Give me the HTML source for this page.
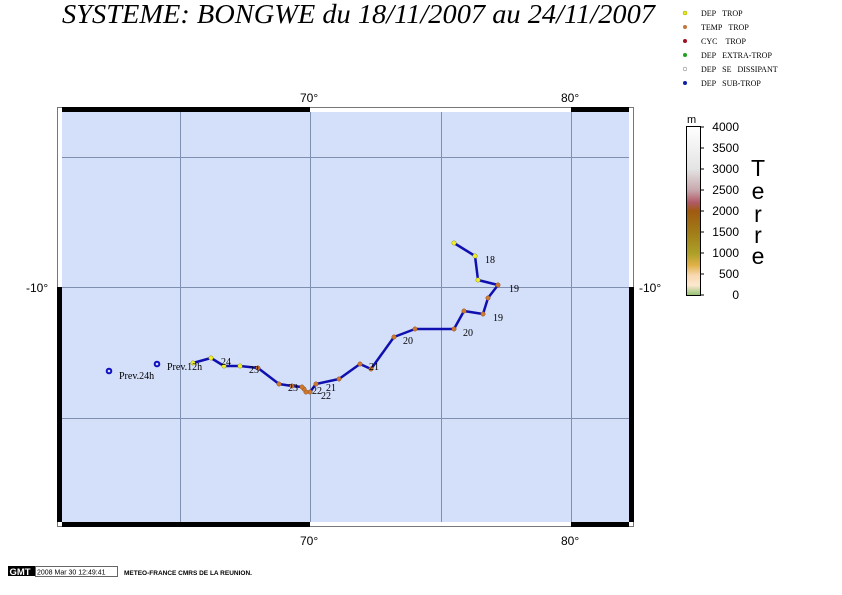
<!DOCTYPE html>
<html><head><meta charset="utf-8"><style>
html,body{margin:0;padding:0;background:#fff;}
svg{display:block;}
</style></head><body>
<svg width="842" height="595" viewBox="0 0 842 595" xmlns="http://www.w3.org/2000/svg">
<defs>
<linearGradient id="cb" x1="0" y1="0" x2="0" y2="1">
<stop offset="0" stop-color="#ffffff"/>
<stop offset="0.25" stop-color="#e4e4e4"/>
<stop offset="0.375" stop-color="#c8a8ae"/>
<stop offset="0.45" stop-color="#b05a66"/>
<stop offset="0.5" stop-color="#a05a10"/>
<stop offset="0.625" stop-color="#a07c18"/>
<stop offset="0.75" stop-color="#aca028"/>
<stop offset="0.82" stop-color="#e0b048"/>
<stop offset="0.88" stop-color="#f8d8b0"/>
<stop offset="0.94" stop-color="#fce8d0"/>
<stop offset="1" stop-color="#90c070"/>
</linearGradient>
</defs>
<text x="62" y="23" font-family="Liberation Serif, serif" font-style="italic" font-size="27" textLength="593" lengthAdjust="spacingAndGlyphs">SYSTEME: BONGWE du 18/11/2007 au 24/11/2007</text>

<g font-family="Liberation Serif, serif" font-size="8">
<circle cx="685" cy="13" r="2" fill="#e8e820" stroke="#a0a000" stroke-width="0.5"/><text x="701" y="16">DEP&#160;&#160;&#160;TROP</text>
<circle cx="685" cy="27" r="2" fill="#c07840"/><text x="701" y="30">TEMP&#160;&#160;&#160;TROP</text>
<circle cx="685" cy="41" r="2" fill="#a01020"/><text x="701" y="44">CYC&#160;&#160;&#160;&#160;TROP</text>
<circle cx="685" cy="55" r="2" fill="#20a020"/><text x="701" y="58">DEP&#160;&#160;&#160;EXTRA-TROP</text>
<circle cx="685" cy="69" r="1.8" fill="#fff" stroke="#888" stroke-width="0.6"/><text x="701" y="72">DEP&#160;&#160;&#160;SE&#160;&#160;&#160;DISSIPANT</text>
<circle cx="685" cy="83" r="2" fill="#1020a0"/><text x="701" y="86">DEP&#160;&#160;&#160;SUB-TROP</text>
</g>

<!-- frame -->
<rect x="57.5" y="107.5" width="576" height="419" fill="#fff" stroke="#777" stroke-width="1"/>
<rect x="62" y="112" width="567" height="410" fill="#d4dffa"/>
<rect x="62" y="107" width="248" height="5" fill="#000"/>
<rect x="571" y="107" width="58" height="5" fill="#000"/>
<rect x="62" y="522" width="248" height="5" fill="#000"/>
<rect x="571" y="522" width="58" height="5" fill="#000"/>
<rect x="57" y="287" width="5" height="235" fill="#000"/>
<rect x="629" y="287" width="5" height="235" fill="#000"/>
<g stroke="#7f8fb0" stroke-width="1">
<line x1="180.5" y1="112" x2="180.5" y2="522"/>
<line x1="310.5" y1="112" x2="310.5" y2="522"/>
<line x1="441.5" y1="112" x2="441.5" y2="522"/>
<line x1="571.5" y1="112" x2="571.5" y2="522"/>
<line x1="62" y1="157.5" x2="629" y2="157.5"/>
<line x1="62" y1="287.5" x2="629" y2="287.5"/>
<line x1="62" y1="418.5" x2="629" y2="418.5"/>
</g>
<g font-family="Liberation Sans, sans-serif" font-size="12">
<text x="300" y="102">70°</text>
<text x="561" y="102">80°</text>
<text x="300" y="545">70°</text>
<text x="561" y="545">80°</text>
<text x="26" y="292">-10°</text>
<text x="639" y="292">-10°</text>
</g>

<!-- track -->
<polyline fill="none" stroke="#1010b0" stroke-width="2.5" stroke-linejoin="round" points="454,243 475,256 478,280 498,285 488,298 483,314 464,311 454,329 415,329 394,337 371,369 360,364 339,379 316,384 310,392 306,392 304,389 302,387 292,386 279,384 258,368 240,366 224,366 211,358 193,363"/>
<g fill="#d07a30" stroke="#905020" stroke-width="0.5">
<circle cx="498" cy="285" r="2.2"/><circle cx="488" cy="298" r="2.2"/><circle cx="483" cy="314" r="2.2"/><circle cx="464" cy="311" r="2.2"/><circle cx="454" cy="329" r="2.2"/><circle cx="415" cy="329" r="2.2"/><circle cx="394" cy="337" r="2.2"/><circle cx="371" cy="369" r="2.2"/><circle cx="360" cy="364" r="2.2"/><circle cx="339" cy="379" r="2.2"/><circle cx="316" cy="384" r="2.2"/><circle cx="310" cy="392" r="2.2"/><circle cx="306" cy="392" r="2.2"/><circle cx="304" cy="389" r="2.2"/><circle cx="302" cy="387" r="2.2"/><circle cx="292" cy="386" r="2.2"/><circle cx="279" cy="384" r="2.2"/><circle cx="258" cy="368" r="2.2"/>
</g>
<g fill="#f0f030" stroke="#909000" stroke-width="0.5">
<circle cx="454" cy="243" r="2.2"/><circle cx="475" cy="256" r="2.2"/><circle cx="478" cy="280" r="2.2"/><circle cx="240" cy="366" r="2.2"/><circle cx="224" cy="366" r="2.2"/><circle cx="211" cy="358" r="2.2"/><circle cx="193" cy="363" r="2.2"/>
</g>
<circle cx="157" cy="364" r="2.3" fill="none" stroke="#1010c0" stroke-width="2"/>
<circle cx="109" cy="371" r="2.3" fill="none" stroke="#1010c0" stroke-width="2"/>
<g font-family="Liberation Serif, serif" font-size="10">
<text x="485" y="263">18</text>
<text x="509" y="292">19</text>
<text x="493" y="321">19</text>
<text x="463" y="336">20</text>
<text x="403" y="344">20</text>
<text x="369" y="370">21</text>
<text x="326" y="391">21</text>
<text x="321" y="399">22</text>
<text x="312" y="394">22</text>
<text x="288" y="391">23</text>
<text x="249" y="373">23</text>
<text x="221" y="365">24</text>
<text x="167" y="370">Prev.12h</text>
<text x="119" y="379">Prev.24h</text>
</g>

<!-- colorbar -->
<rect x="686.5" y="126.5" width="14" height="169" fill="url(#cb)" stroke="#000" stroke-width="1"/>
<g stroke="#000" stroke-width="1">
<line x1="700" y1="127" x2="704" y2="127"/><line x1="700" y1="148" x2="704" y2="148"/><line x1="700" y1="169" x2="704" y2="169"/><line x1="700" y1="190" x2="704" y2="190"/><line x1="700" y1="211" x2="704" y2="211"/><line x1="700" y1="232" x2="704" y2="232"/><line x1="700" y1="253" x2="704" y2="253"/><line x1="700" y1="274" x2="704" y2="274"/><line x1="700" y1="295" x2="704" y2="295"/>
</g>
<g font-family="Liberation Sans, sans-serif" font-size="12" text-anchor="end">
<text x="739" y="131">4000</text><text x="739" y="152">3500</text><text x="739" y="173">3000</text><text x="739" y="194">2500</text><text x="739" y="215">2000</text><text x="739" y="236">1500</text><text x="739" y="257">1000</text><text x="739" y="278">500</text><text x="739" y="299">0</text>
</g>
<text x="687" y="123" font-family="Liberation Sans, sans-serif" font-size="11">m</text>
<g font-family="Liberation Sans, sans-serif" font-size="23" text-anchor="middle">
<text x="758" y="176">T</text><text x="758" y="199">e</text><text x="758" y="222">r</text><text x="758" y="243">r</text><text x="758" y="264">e</text>
</g>

<!-- footer -->
<rect x="8" y="566" width="27" height="10" fill="#000"/>
<text x="9.5" y="575" font-family="Liberation Sans, sans-serif" font-size="9.5" font-weight="bold" fill="#fff">GMT</text>
<rect x="35.5" y="566.5" width="82" height="10" fill="#fff" stroke="#000" stroke-width="0.6"/>
<text x="37" y="574.5" font-family="Liberation Sans, sans-serif" font-size="7">2008 Mar 30 12:49:41</text>
<text x="124" y="575" font-family="Liberation Sans, sans-serif" font-size="6.5" font-weight="bold">METEO-FRANCE CMRS DE LA REUNION.</text>
</svg>
</body></html>
